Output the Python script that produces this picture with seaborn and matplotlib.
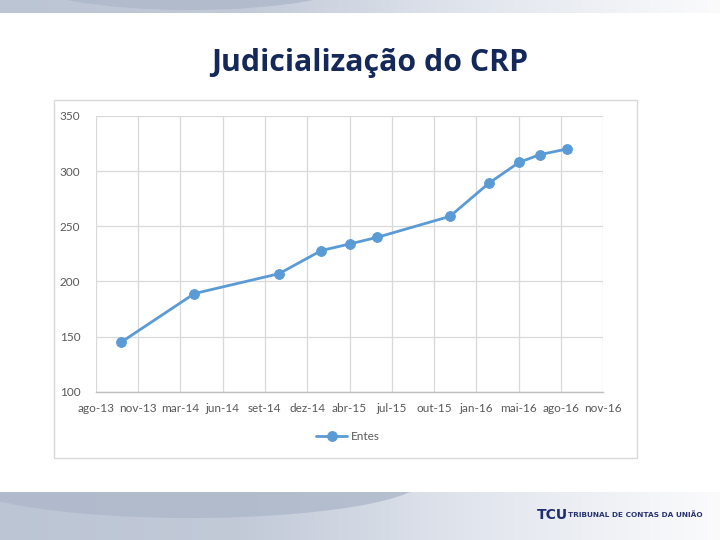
import matplotlib
matplotlib.use("Agg")
import matplotlib.pyplot as plt
import seaborn as sns
import pandas as pd
import numpy as np
from matplotlib.patches import Rectangle, Ellipse
from matplotlib.colors import LinearSegmentedColormap

# ---- data ----
title = "Judicialização do CRP"
series_name = "Entes"
dates = ["2013-10-19", "2014-04-08", "2014-10-23", "2015-01-30", "2015-04-07",
         "2015-06-10", "2015-11-27", "2016-02-26", "2016-05-07", "2016-06-25",
         "2016-08-26"]
values = [145, 189, 207, 228, 234, 240, 259, 289, 308, 315, 320]
tick_labels = ["ago-13", "nov-13", "mar-14", "jun-14", "set-14", "dez-14", "abr-15",
               "jul-15", "out-15", "jan-16", "mai-16", "ago-16", "nov-16"]
axis_start = "2013-08-20"
tick_step_days = 99
y_ticks = [100, 150, 200, 250, 300, 350]

df = pd.DataFrame({"data": pd.to_datetime(dates), series_name: values})

sns.set_theme(style="white")
plt.rcParams['font.family'] = ['Lato', 'DejaVu Sans']

W, H = 720, 540
fig = plt.figure(figsize=(7.2, 5.4), dpi=100)
fig.patch.set_facecolor("white")

# ---- slide background ----
bg = fig.add_axes([0, 0, 1, 1], zorder=-10)
bg.set_axis_off()
grad = np.linspace(0, 1, 256)[None, :]
cm_band = LinearSegmentedColormap.from_list("band", ["#BCC5D4", "#C2CAD8", "#E2E6EE", "#FBFBFC"])
bg.imshow(grad, extent=[0, W, 13, 0], cmap=cm_band, aspect="auto", zorder=0)
bg.imshow(grad, extent=[0, W, 540, 492], cmap=cm_band, aspect="auto", zorder=0)
bg.set_xlim(0, W)
bg.set_ylim(H, 0)
top_clip = Rectangle((0, 0), W, 13, transform=bg.transData)
e1 = Ellipse((190, -20), 330, 60, facecolor="#AEB8CA", edgecolor="none", alpha=0.8, zorder=1)
bg.add_patch(e1)
e1.set_clip_path(top_clip)
bot_clip = Rectangle((0, 492), W, 48, transform=bg.transData)
e2 = Ellipse((190, 478), 470, 80, facecolor="#AEB8CA", edgecolor="none", alpha=0.8, zorder=1)
bg.add_patch(e2)
e2.set_clip_path(bot_clip)

# chart frame
bg.add_patch(Rectangle((54, 100), 583, 358, facecolor="white", edgecolor="#D9D9D9", lw=1, zorder=2))

# title
bg.text(370, 63, title, ha="center", va="center", fontsize=21.8, fontweight="bold",
        color="#14295A", zorder=3, family=["Open Sans", "DejaVu Sans"])

# logo
bg.text(537, 515, "TCU", ha="left", va="center", fontsize=10, fontweight="heavy",
        color="#1F2E6E", zorder=3, family=["DejaVu Sans"])
bg.text(568, 515, "TRIBUNAL DE CONTAS DA UNIÃO", ha="left", va="center", fontsize=5.3,
        fontweight="bold", color="#2A3570", zorder=3, family=["DejaVu Sans"])

# ---- chart ----
left, right, top, bottom = 95.7, 603.3, 116, 391.7
ax = fig.add_axes([left / W, 1 - bottom / H, (right - left) / W, (bottom - top) / H])
ax.set_facecolor("white")

sns.lineplot(data=df, x="data", y=series_name, marker="o", color="#5B9BD5", linewidth=2,
             markersize=7, markeredgecolor="#5B9BD5", label=series_name, ax=ax)

start = pd.Timestamp(axis_start)
ticks = [start + pd.Timedelta(days=tick_step_days * i) for i in range(len(tick_labels))]
ax.set_xlim(ticks[0], ticks[-1])
ax.set_xticks(ticks)
ax.set_xticklabels(tick_labels)
ax.set_ylim(y_ticks[0], y_ticks[-1])
ax.set_yticks(y_ticks)
ax.set_xlabel("")
ax.set_ylabel("")
ax.grid(True, color="#D9D9D9", linewidth=0.9)
ax.set_axisbelow(True)
for s in ["top", "right", "left"]:
    ax.spines[s].set_visible(False)
ax.spines["bottom"].set_color("#BFBFBF")
ax.spines["bottom"].set_linewidth(1)
ax.tick_params(axis="both", length=0, labelsize=8.5, labelcolor="#595959")
ax.tick_params(axis="y", pad=11)
ax.tick_params(axis="x", pad=8)

ax.legend(loc="center", bbox_to_anchor=(348 / W, 1 - 437 / H), bbox_transform=fig.transFigure,
          frameon=False, fontsize=8.5, labelcolor="#595959", handlelength=2.6, handletextpad=0.3)

fig.savefig("out.png", dpi=100)
